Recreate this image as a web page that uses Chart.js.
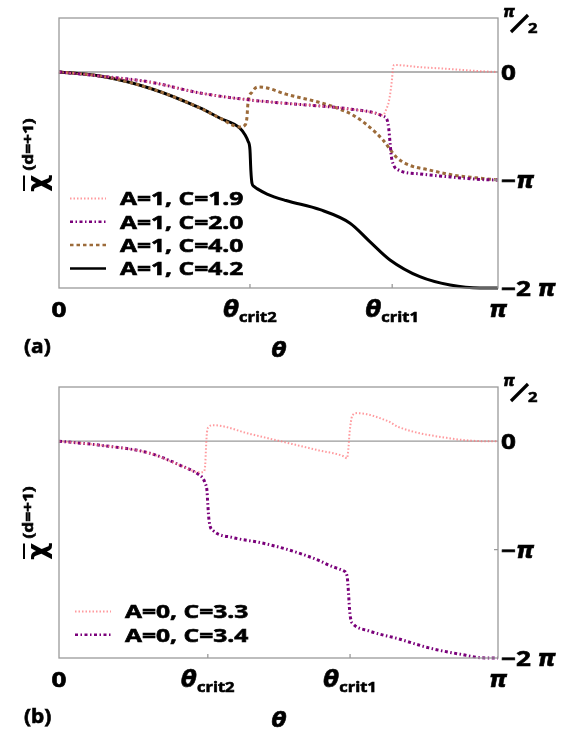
<!DOCTYPE html>
<html>
<head>
<meta charset="utf-8">
<title>chi vs theta</title>
<script src="https://cdn.jsdelivr.net/npm/chart.js@4.4.1/dist/chart.umd.min.js"></script>
<style>
  html, body { margin: 0; padding: 0; background: #fff; }
  #page { position: relative; width: 572px; height: 730px; }
  canvas { position: absolute; left: 0; }
</style>
</head>
<body>
<div id="page">
  <canvas id="panelA" width="572" height="365" style="top:0"></canvas>
  <canvas id="panelB" width="572" height="365" style="top:365px"></canvas>
</div>
<script>
// theta is in units of pi (0..1), chi is in units of pi

// panel (a)
const thetaA19 = [0, 0.093, 0.207, 0.321, 0.435, 0.517, 0.595, 0.663, 0.72, 0.738, 0.745, 0.752, 0.759, 0.761, 0.765, 0.82, 0.89, 0.95, 1];
const chiA19 = [0, -0.037, -0.093, -0.194, -0.259, -0.29, -0.315, -0.343, -0.38, -0.40, -0.35, -0.26, -0.05, 0.05, 0.065, 0.046, 0.028, 0.01, 0];

const thetaA20 = [0, 0.093, 0.207, 0.321, 0.435, 0.517, 0.595, 0.663, 0.72, 0.738, 0.747, 0.751, 0.754, 0.757, 0.761, 0.770, 0.822, 0.891, 0.959, 1];
const chiA20 = [0, -0.037, -0.093, -0.194, -0.259, -0.29, -0.315, -0.343, -0.38, -0.41, -0.44, -0.52, -0.65, -0.78, -0.85, -0.9, -0.944, -0.972, -0.995, -1.0];

const thetaA40 = [0, 0.093, 0.207, 0.321, 0.366, 0.412, 0.424, 0.428, 0.4305, 0.440, 0.453, 0.474, 0.517, 0.592, 0.631, 0.670, 0.706, 0.738, 0.752, 0.768, 0.797, 0.843, 0.897, 0.950, 1];
const chiA40 = [0, -0.037, -0.15, -0.333, -0.426, -0.509, -0.49, -0.426, -0.287, -0.185, -0.139, -0.148, -0.205, -0.28, -0.33, -0.40, -0.505, -0.63, -0.704, -0.787, -0.861, -0.907, -0.954, -0.98, -1.0];

const thetaA42 = [0, 0.093, 0.207, 0.321, 0.366, 0.412, 0.424, 0.4305, 0.435, 0.437, 0.4396, 0.444, 0.451, 0.474, 0.517, 0.595, 0.663, 0.708, 0.754, 0.822, 0.891, 0.959, 1];
const chiA42 = [0, -0.037, -0.15, -0.333, -0.426, -0.519, -0.583, -0.64, -0.72, -0.91, -1.03, -1.06, -1.08, -1.13, -1.19, -1.275, -1.40, -1.57, -1.74, -1.895, -1.972, -2.0, -2.0];

const labelsA = ["A=1, C=1.9", "A=1, C=2.0", "A=1, C=4.0", "A=1, C=4.2"];
const critA = [0.435, 0.759];

// panel (b)
const thetaB33 = [0, 0.093, 0.207, 0.276, 0.321, 0.330, 0.333, 0.335, 0.337, 0.341, 0.351, 0.435, 0.517, 0.592, 0.649, 0.656, 0.659, 0.662, 0.665, 0.668, 0.679, 0.749, 0.774, 0.888, 0.973, 1];
const chiB33 = [0, -0.037, -0.111, -0.222, -0.287, -0.28, -0.22, -0.05, 0.08, 0.13, 0.148, 0.067, -0.012, -0.085, -0.14, -0.157, -0.08, 0.08, 0.18, 0.235, 0.259, 0.185, 0.13, 0.028, 0, 0];

const thetaB34 = [0, 0.093, 0.207, 0.276, 0.321, 0.328, 0.333, 0.337, 0.3385, 0.341, 0.344, 0.351, 0.396, 0.458, 0.517, 0.592, 0.617, 0.647, 0.656, 0.659, 0.662, 0.665, 0.670, 0.706, 0.774, 0.843, 0.911, 0.973, 1];
const chiB34 = [0, -0.037, -0.111, -0.222, -0.315, -0.343, -0.389, -0.454, -0.55, -0.70, -0.78, -0.824, -0.889, -0.935, -0.995, -1.10, -1.148, -1.194, -1.24, -1.37, -1.56, -1.65, -1.685, -1.75, -1.824, -1.907, -1.963, -2.0, -2.0];

const labelsB = ["A=0, C=3.3", "A=0, C=3.4"];
const critB = [0.339, 0.663];

// axis labels
const yTicks = [0.5, 0, -1, -2];
const yTickLabels = ["π/2", "0", "−π", "−2 π"];
const xTickLabels = ["0", "θ|crit2", "θ|crit1", "π"];

const SX = 1.24; // lettering in the figure is wide, stretch the font a bit
const LATIN = '"Open Sans"';
const GREEK = /[θπχ]/;

function runsOf(s, size) {
  // split a label into latin / greek runs
  const runs = [];
  for (const ch of s) {
    const g = GREEK.test(ch);
    const last = runs[runs.length - 1];
    if (last && last.g === g) last.t += ch;
    else runs.push({ t: ch, g: g });
  }
  return runs.map((r) => ({
    t: r.t,
    font: r.g ? `italic bold ${size + 2}px "DejaVu Sans"` : `bold ${size}px ${LATIN}`,
    sx: r.g ? 1 : SX,
    dy: 0,
  }));
}

function runsWidth(ctx, runs) {
  let w = 0;
  runs.forEach((r) => {
    ctx.font = r.font;
    w += ctx.measureText(r.t).width * r.sx;
  });
  return w;
}

function drawRuns(ctx, runs, x, y, align) {
  ctx.save();
  const w = runsWidth(ctx, runs);
  let cx = align === "center" ? x - w / 2 : align === "right" ? x - w : x;
  ctx.textAlign = "left";
  ctx.textBaseline = "alphabetic";
  ctx.strokeStyle = ctx.fillStyle;
  ctx.lineWidth = 0.6;
  runs.forEach((r) => {
    ctx.font = r.font;
    const rw = ctx.measureText(r.t).width;
    ctx.save();
    ctx.translate(cx, y + r.dy);
    ctx.scale(r.sx, 1);
    ctx.fillText(r.t, 0, 0);
    ctx.strokeText(r.t, 0, 0);
    ctx.restore();
    cx += rw * r.sx;
  });
  ctx.restore();
  return w;
}

const decor = {
  id: "decor",
  beforeDatasetsDraw(chart) {
    const { ctx, chartArea: a, scales } = chart;
    const y0 = scales.y.getPixelForValue(0);
    ctx.save();
    ctx.strokeStyle = "#9a9a9a";
    ctx.lineWidth = 1.3;
    ctx.beginPath();
    ctx.moveTo(a.left, y0);
    ctx.lineTo(a.right, y0);
    ctx.stroke();
    ctx.restore();
  },
  afterDraw(chart, args, opts) {
    const { ctx, chartArea: a, scales } = chart;
    const xs = scales.x, ys = scales.y;
    ctx.save();
    ctx.fillStyle = "#000";

    // frame and inward ticks
    ctx.strokeStyle = "#9a9a9a";
    ctx.lineWidth = 1.3;
    ctx.strokeRect(a.left, a.top, a.right - a.left, a.bottom - a.top);
    ctx.beginPath();
    opts.crit.forEach((c) => {
      const px = xs.getPixelForValue(c);
      ctx.moveTo(px, a.bottom);
      ctx.lineTo(px, a.bottom - 4);
    });
    const pm = ys.getPixelForValue(-1);
    ctx.moveTo(a.right, pm);
    ctx.lineTo(a.right - 4, pm);
    ctx.stroke();

    // bottom tick labels
    const xVals = [0, opts.crit[0], opts.crit[1], 1];
    xTickLabels.forEach((lab, i) => {
      const px = xs.getPixelForValue(xVals[i]);
      let runs;
      if (lab.includes("|")) {
        const [main, sub] = lab.split("|");
        runs = [
          { t: main, font: 'italic bold 23px "DejaVu Sans"', sx: 1, dy: 0 },
          { t: sub, font: `bold 15px ${LATIN}`, sx: 1.1, dy: 5 },
        ];
      } else {
        runs = runsOf(lab, 21);
      }
      drawRuns(ctx, runs, px, a.bottom + 29, "center");
    });

    // right tick labels
    yTicks.forEach((v, i) => {
      const py = ys.getPixelForValue(v);
      const lab = yTickLabels[i];
      if (lab === "π/2") {
        drawRuns(ctx, [{ t: "π", font: 'italic bold 15px "DejaVu Sans"', sx: 1, dy: 0 }], a.right + 5, py - 1, "left");
        ctx.save();
        ctx.lineWidth = 3.2;
        ctx.strokeStyle = "#000";
        ctx.beginPath();
        ctx.moveTo(a.right + 13, py + 14);
        ctx.lineTo(a.right + 30, py - 3);
        ctx.stroke();
        ctx.restore();
        drawRuns(ctx, [{ t: "2", font: `bold 15px ${LATIN}`, sx: 1.1, dy: 0 }], a.right + 30, py + 15, "left");
      } else {
        drawRuns(ctx, runsOf(lab, 21), a.right + 3, py + 8, "left");
      }
    });

    // y axis title, rotated
    ctx.save();
    ctx.translate(opts.titleX, opts.titleY);
    ctx.rotate(-Math.PI / 2);
    ctx.font = 'bold 27px "DejaVu Sans"';
    ctx.textAlign = "left";
    ctx.textBaseline = "alphabetic";
    ctx.fillText("χ", 0, 0);
    const cw = ctx.measureText("χ").width;
    ctx.lineWidth = 2;
    ctx.strokeStyle = "#000";
    ctx.beginPath();
    ctx.moveTo(1, -22);
    ctx.lineTo(cw - 1, -22);
    ctx.stroke();
    drawRuns(ctx, [{ t: "(d=+1)", font: `bold 15px ${LATIN}`, sx: 1.15, dy: 0 }], cw + 4, -13, "left");
    ctx.restore();

    // panel tag and x title
    drawRuns(ctx, [{ t: opts.tag, font: `bold 19px ${LATIN}`, sx: 1.1, dy: 0 }], 24, opts.tagY, "left");
    drawRuns(ctx, [{ t: "θ", font: 'italic bold 22px "DejaVu Sans"', sx: 1, dy: 0 }], 279, opts.tagY + 4, "center");

    // legend
    chart.data.datasets.forEach((ds, i) => {
      const cy = opts.legendY + i * 23.3;
      ctx.save();
      ctx.strokeStyle = ds.borderColor;
      ctx.lineWidth = Math.min(ds.borderWidth, 2.5);
      ctx.setLineDash(ds.borderDash || []);
      ctx.beginPath();
      ctx.moveTo(opts.legendX, cy);
      ctx.lineTo(opts.legendX + 36, cy);
      ctx.stroke();
      ctx.restore();
      drawRuns(ctx, [{ t: ds.label, font: `bold 18.5px ${LATIN}`, sx: 1.33, dy: 0 }], opts.legendX + 50, cy + 6.7, "left");
    });
    ctx.restore();
  },
};

const styles = {
  pink: { borderColor: "rgba(255,120,125,0.75)", borderWidth: 2, borderDash: [1.5, 2] },
  purple: { borderColor: "#7a007a", borderWidth: 3, borderDash: [3, 2.5, 1.5, 2.5] },
  brown: { borderColor: "#9c6b3a", borderWidth: 3, borderDash: [3.5, 3] },
  black: { borderColor: "#000000", borderWidth: 3, borderDash: [] },
};

const series = (thetas, chis) => thetas.map((t, i) => ({ x: t, y: chis[i] }));

function makePanel(id, datasets, padding, opts) {
  return new Chart(document.getElementById(id), {
    type: "line",
    data: {
      datasets: datasets.map((d) => ({
        label: d.label,
        data: d.data,
        ...d.style,
        pointRadius: 0,
        fill: false,
        cubicInterpolationMode: "monotone",
        clip: 6,
      })),
    },
    options: {
      responsive: false,
      animation: false,
      layout: { padding: padding },
      plugins: { legend: { display: false }, tooltip: { enabled: false }, decor: opts },
      scales: {
        x: { type: "linear", min: 0, max: 1, display: false },
        y: { type: "linear", min: -2, max: 0.5, display: false },
      },
    },
    plugins: [decor],
  });
}

makePanel(
  "panelA",
  [
    { label: labelsA[0], data: series(thetaA19, chiA19), style: styles.pink },
    { label: labelsA[1], data: series(thetaA20, chiA20), style: styles.purple },
    { label: labelsA[2], data: series(thetaA40, chiA40), style: styles.brown },
    { label: labelsA[3], data: series(thetaA42, chiA42), style: styles.black },
  ],
  { left: 59, right: 74, top: 18, bottom: 77 },
  { crit: critA, legendX: 70, legendY: 198.5, titleX: 46, titleY: 192, tag: "(a)", tagY: 353 }
);

makePanel(
  "panelB",
  [
    { label: labelsB[0], data: series(thetaB33, chiB33), style: styles.pink },
    { label: labelsB[1], data: series(thetaB34, chiB34), style: styles.purple },
  ],
  { left: 59, right: 74, top: 22, bottom: 72 },
  { crit: critB, legendX: 75, legendY: 246.5, titleX: 46, titleY: 195, tag: "(b)", tagY: 358 }
);
</script>
</body>
</html>
